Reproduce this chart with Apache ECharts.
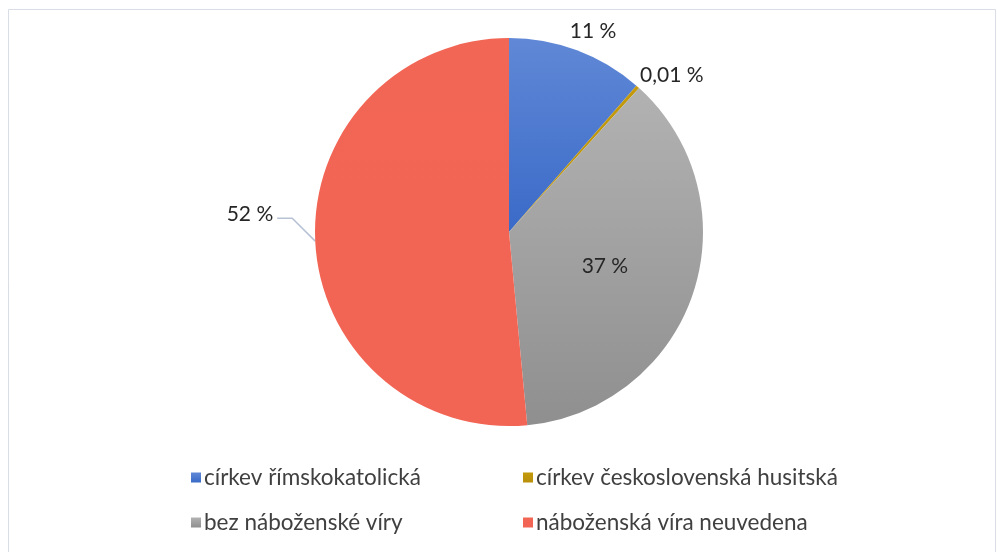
<!DOCTYPE html>
<html>
<head>
<meta charset="utf-8">
<script src="https://cdn.jsdelivr.net/npm/echarts@6/dist/echarts.min.js"></script>
<style>
html,body{margin:0;padding:0;background:#fff;}
#c{width:997px;height:552px;}
</style>
</head>
<body>
<div id="c"></div>
<script>
var categories = ['církev římskokatolická', 'církev československá husitská', 'bez náboženské víry', 'náboženská víra neuvedena'];
var values = [11.4, 0.3, 36.8, 51.5];
var labelTexts = ['11 %', '0,01 %', '37 %', '52 %'];

var fills = [
  {top: '#6088D6', bottom: '#3A6AC8'},
  {top: '#C49A0C', bottom: '#B8900A'},
  {top: '#B2B2B2', bottom: '#8F8F8F'},
  {top: '#F26656', bottom: '#F26454'}
];
var labelConf = [
  {position: 'outside', lineShow: false, dx: -30, dy: -12},
  {position: 'outside', lineShow: false, dx: -23, dy: -6},
  {position: 'inside', lineShow: false, dx: 1, dy: 3},
  {position: 'outside', lineShow: true, dx: 0, dy: 0}
];

var data = categories.map(function (name, i) {
  var lc = labelConf[i];
  return {
    name: name,
    value: values[i],
    itemStyle: {
      color: {type: 'linear', x: 0, y: 0, x2: 0, y2: 1,
        colorStops: [{offset: 0, color: fills[i].top}, {offset: 1, color: fills[i].bottom}]}
    },
    label: {position: lc.position, formatter: labelTexts[i]},
    labelLine: {show: lc.lineShow}
  };
});

var legendText = {fontFamily: 'Lato', fontSize: 22.5, color: '#404040', padding: [0, 0, 0, -2]};

var chart = echarts.init(document.getElementById('c'));
chart.setOption({
  backgroundColor: '#ffffff',
  animation: false,
  graphic: [{
    type: 'rect', shape: {x: 8.5, y: 9.5, width: 987, height: 560},
    style: {fill: 'none', stroke: '#D9DEE6', lineWidth: 1}, silent: true
  }],
  legend: [{
    orient: 'vertical', left: 186, top: 461, itemWidth: 10, itemHeight: 10, itemGap: 22,
    icon: 'rect',
    data: [categories[0], categories[2]],
    textStyle: legendText
  }, {
    orient: 'vertical', left: 518, top: 461, itemWidth: 10, itemHeight: 10, itemGap: 22,
    icon: 'rect',
    data: [categories[1], categories[3]],
    textStyle: legendText
  }],
  series: [{
    type: 'pie',
    center: [509, 232],
    radius: [0, 194],
    startAngle: 90,
    clockwise: true,
    avoidLabelOverlap: false,
    minAngle: 0,
    itemStyle: {borderWidth: 0},
    label: {
      color: '#262626', fontFamily: 'Lato', fontSize: 21
    },
    labelLine: {length: 8, length2: 15, smooth: false, lineStyle: {color: '#B7C3D5', width: 1.5}},
    labelLayout: function (p) {
      var c = labelConf[p.dataIndex];
      if (p.dataIndex === 3 && p.labelLinePoints) {
        var s = p.labelLinePoints[0];
        var a = [s[0] - 23, s[1] - 23];
        var b = [a[0] - 15, a[1]];
        var r = p.labelRect;
        return {
          dx: (b[0] - 4) - (r.x + r.width),
          dy: (b[1] - 4) - (r.y + r.height / 2),
          labelLinePoints: [s, a, b]
        };
      }
      return {dx: c.dx, dy: c.dy};
    },
    emphasis: {disabled: true},
    data: data
  }]
});
</script>
</body>
</html>
